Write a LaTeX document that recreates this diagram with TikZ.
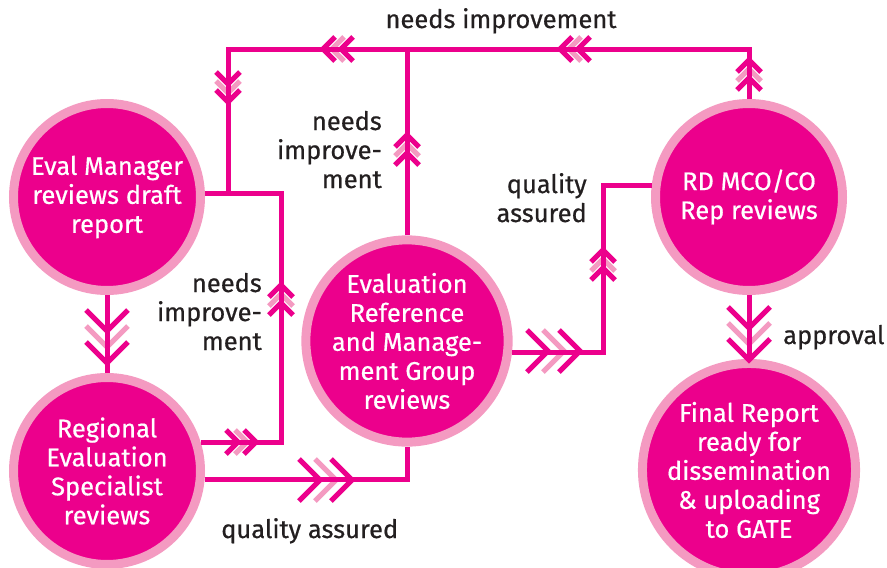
\documentclass[tikz,border=0pt]{standalone}
\usepackage{fontspec}
\setmainfont{Fira Sans}[FakeBold=0.6]
\definecolor{evalmag}{HTML}{EC008C}
\definecolor{evalpink}{HTML}{F49AC1}
\definecolor{evaltext}{HTML}{231F20}
\tikzset{
	stage/.style={circle, fill=evalmag, draw=evalpink, line width=9pt, minimum size=187pt, inner sep=0pt, text=white, align=center, font=\fontsize{25.5}{29}\selectfont},
	lbl/.style={text=evaltext, align=right, inner sep=0pt, font=\fontsize{25.5}{29}\selectfont},
	flow/.style={evalmag, line width=5pt},
	chevdark/.style={evalmag, line width=5pt},
	chevlight/.style={evalpink, line width=5pt}
}
% three chevrons: #1 = middle tip, #2 = direction, #3 = half width, #4 = gap
\newcommand{\chevs}[4]{%
	\begin{scope}[shift={#1}, rotate=#2]
		\draw [chevlight] (-#3,-#3) -- (0,0) -- (-#3,#3);
		\draw [chevdark] (-#4-#3,-#3) -- (-#4,0) -- (-#4-#3,#3);
		\draw [chevdark] (#4-#3,-#3) -- (#4,0) -- (#4-#3,#3);
	\end{scope}}
\begin{document}
\begin{tikzpicture}[x=1pt, y=-1pt]
	\useasboundingbox (0,0) rectangle (887,568);
	% Stages
	\node [stage] (em) at (107,197) {Eval Manager\\reviews draft\\report};
	\node [stage] (res) at (107,471) {Regional\\Evaluation\\Specialist\\reviews};
	\node [stage] (ermg) at (407,341) {Evaluation\\Reference\\and Manage-\\ment Group\\reviews};
	\node [stage] (rd) at (749,197) {RD MCO/CO\\Rep reviews};
	\node [stage] (fin) at (749,470) {Final Report\\ready for\\dissemination\\\& uploading\\to GATE};
	% Labels
	\node [lbl, anchor=base] (topni) at (501,28) {needs improvement};
	\node [lbl, anchor=base east] (midni) at (382,188) {needs\\improve-\\ment};
	\node [lbl, anchor=base east] (lowni) at (262,350) {needs\\improve-\\ment};
	\node [lbl, anchor=base east] (rdqa) at (587,222) {quality\\assured};
	\node [lbl, anchor=base west] (resqa) at (221,538) {quality assured};
	\node [lbl, anchor=base west] (okay) at (783,344) {approval};
	% Chevrons
	\chevs{(107,347)}{-90}{21}{16}
	\chevs{(749,344)}{-90}{21}{16}
	\chevs{(336,480)}{0}{21}{16}
	\chevs{(564,351)}{0}{21}{16}
	\chevs{(247,442)}{0}{12}{9}
	\chevs{(281,294)}{90}{12}{9}
	\chevs{(228,93)}{-90}{12}{9}
	\chevs{(407,144)}{90}{12}{9}
	\chevs{(749,69)}{90}{12}{9}
	\chevs{(332,49)}{180}{12}{9}
	\chevs{(569,49)}{180}{12}{9}
	\chevs{(603,259)}{90}{12}{9}
	% Links
	\coordinate (tl) at (228,49);
	\coordinate (upr) at (281,0);
	\coordinate (qa) at (603,0);
	\draw [flow] (rd.north) |- (tl) -- (tl |- em.2);
	\draw [flow] (ermg.north) -- (ermg.north |- tl);
	\draw [flow] (res.17) -| (upr |- em.2) -- (em.2);
	\draw [flow] (res.-5) -| (ermg.south);
	\draw [flow] (ermg.-6) -| (qa |- rd.173) -- (rd.173);
	\draw [flow] (em.south) -- (res.north);
	\draw [flow] (rd.south) -- (fin.north);
\end{tikzpicture}
\end{document}
